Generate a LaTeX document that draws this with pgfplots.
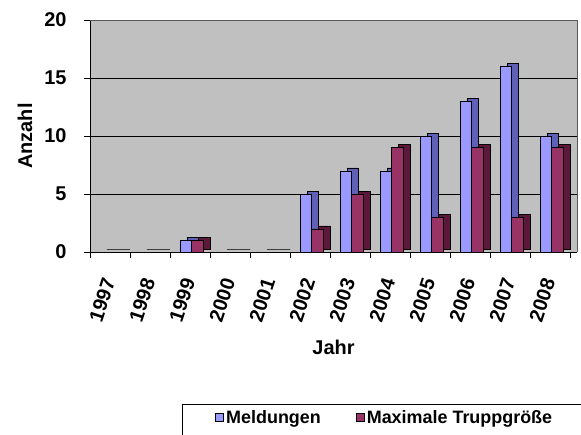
\documentclass[border=0pt]{standalone}
\usepackage{pgfplots}
\pgfplotsset{compat=1.18}
\usepackage{fontspec}
\setmainfont{Liberation Sans}
\definecolor{wallgray}{RGB}{192,192,192}
\definecolor{mblue}{RGB}{153,153,255}
\definecolor{mbluedark}{RGB}{96,96,184}
\definecolor{tred}{RGB}{153,51,102}
\definecolor{treddark}{RGB}{92,24,58}
\begin{document}
\begin{tikzpicture}
\useasboundingbox (-90bp,-183bp) rectangle (491bp,252bp);
\begin{axis}[
  at={(0,0)}, anchor=south west,
  scale only axis, width=487bp, height=232bp,
  xmin=-0.5, xmax=11.675, ymin=0, ymax=20,
  axis background/.style={fill=wallgray},
  axis x line*=bottom, axis y line*=left,
  axis line style={black, line width=1pt},
  ytick={0,5,10,15,20},
  ymajorgrids, grid style={black, line width=1pt},
  xtick={-0.5,0.5,...,11.5}, xticklabels={,,,,,,,,,,,,,},
  extra x ticks={0,1,2,3,4,5,6,7,8,9,10,11},
  extra x tick labels={1997,1998,1999,2000,2001,2002,2003,2004,2005,2006,2007,2008},
  extra x tick style={major tick length=0pt, grid=none,
     xticklabel style={yshift=-27bp, xshift=-1bp, rotate=72, anchor=east, inner sep=0pt}},
  tick align=outside, major tick length=6bp,
  tick style={black, line width=1pt},
  /pgf/number format/assume math mode=true,
  tick label style={font=\fontsize{20}{22}\selectfont\bfseries},
  yticklabel shift=14bp,
  ylabel={Anzahl}, xlabel={Jahr},
  label style={font=\fontsize{20}{22}\selectfont\bfseries},
  ylabel style={at={(axis description cs:0,0.5)}, anchor=center, yshift=65bp},
  xlabel style={at={(axis description cs:0.5,0)}, anchor=center, yshift=-95bp},
  clip=false,
  bar width=11.5bp,
  legend style={at={(axis description cs:0.2567,-0.7155)}, anchor=west, draw=none, fill=none,
    inner sep=0pt, font=\fontsize{18}{20}\selectfont\bfseries,
    /tikz/every even column/.append style={column sep=33bp}},
  legend columns=2,
  legend image code/.code={\draw[#1, draw=black, line width=1pt] (0bp,-4bp) rectangle (8bp,4bp);},
]
% depth (3D side) copies
\addplot[ybar, bar shift=-0.75bp, xshift=3.5bp, yshift=3bp, fill=mbluedark, draw=black, line width=0.6pt, forget plot]
  coordinates {(0,0) (1,0) (2,1) (3,0) (4,0) (5,5) (6,7) (7,7) (8,10) (9,13) (10,16) (11,10)};
\addplot[ybar, bar shift=10.75bp, xshift=3.5bp, yshift=3bp, fill=treddark, draw=black, line width=0.6pt, forget plot]
  coordinates {(0,0) (1,0) (2,1) (3,0) (4,0) (5,2) (6,5) (7,9) (8,3) (9,9) (10,3) (11,9)};
% front faces
\addplot[ybar, bar shift=-4.25bp, fill=mblue, draw=black, line width=0.6pt]
  coordinates {(0,0) (1,0) (2,1) (3,0) (4,0) (5,5) (6,7) (7,7) (8,10) (9,13) (10,16) (11,10)};
\addplot[ybar, bar shift=7.25bp, fill=tred, draw=black, line width=0.6pt]
  coordinates {(0,0) (1,0) (2,1) (3,0) (4,0) (5,2) (6,5) (7,9) (8,3) (9,9) (10,3) (11,9)};
\legend{Meldungen,Maximale Truppgröße}
\draw[gray!70!black, line width=0.8pt] (rel axis cs:0,1) -- (rel axis cs:1,1) -- (rel axis cs:1,0);
\end{axis}
\draw[black, line width=1pt] (92bp,-152bp) rectangle (500bp,-200bp);
\end{tikzpicture}
\end{document}
